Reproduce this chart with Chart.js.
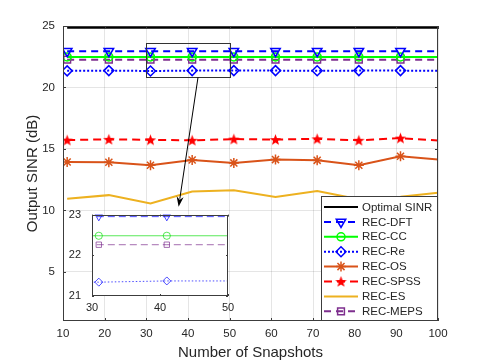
<!DOCTYPE html>
<html>
<head>
<meta charset="utf-8">
<script src="https://cdn.jsdelivr.net/npm/chart.js@4.4.0/dist/chart.umd.min.js"></script>
<style>
  html, body { margin: 0; padding: 0; background: #fff; }
  #wrap { position: relative; width: 485px; height: 363px; }
  #main { position: absolute; left: 0; top: 0; }
  #inset { position: absolute; left: 55px; top: 205px; }
</style>
</head>
<body>
<div id="wrap">
  <canvas id="main" width="485" height="363"></canvas>
  <canvas id="inset" width="180" height="112"></canvas>
</div>
<script>
// data
const snapshots = [11, 21, 31, 41, 51, 61, 71, 81, 91, 101];
const optimalSinr = [24.85, 24.85, 24.85, 24.85, 24.85, 24.85, 24.85, 24.85, 24.85, 24.85];
const recDft  = [22.95, 22.95, 22.95, 22.95, 22.95, 22.95, 22.95, 22.95, 22.95, 22.95];
const recCc   = [22.48, 22.48, 22.48, 22.48, 22.48, 22.48, 22.48, 22.48, 22.48, 22.48];
const recRe   = [21.35, 21.37, 21.34, 21.37, 21.37, 21.37, 21.36, 21.37, 21.37, 21.36];
const recOs   = [13.94, 13.92, 13.67, 14.10, 13.86, 14.13, 14.07, 13.67, 14.40, 14.10];
const recSpss = [15.72, 15.78, 15.74, 15.70, 15.80, 15.76, 15.82, 15.70, 15.88, 15.66];
const recEs   = [10.95, 11.24, 10.57, 11.54, 11.63, 11.08, 11.57, 10.90, 11.10, 11.48];
const recMeps = [22.26, 22.26, 22.26, 22.26, 22.26, 22.26, 22.26, 22.26, 22.26, 22.26];

const xTicks = [10, 20, 30, 40, 50, 60, 70, 80, 90, 100];
const yTicks = [5, 10, 15, 20, 25];
const insetXTicks = [30, 40, 50];
const insetYTicks = [21, 22, 23];

const FONT = '"Liberation Sans", Arial, Helvetica, sans-serif';
const TEXT = '#262626';
const AXIS = '#3c3c3c';
const GRID = 'rgba(0,0,0,0.1)';

Chart.defaults.font.family = FONT;
Chart.defaults.color = TEXT;

function pts(arr) {
    return arr.map((v, i) => ({ x: snapshots[i], y: v }));
}

// filled pentagram used as point image
function makeStar(size, color) {
    const c = document.createElement('canvas');
    c.width = c.height = size;
    const g = c.getContext('2d');
    const cx = size / 2, cy = size / 2 + 0.5, R = size / 2 - 0.5, r = R * 0.42;
    g.beginPath();
    for (let k = 0; k < 10; k++) {
        const a = -Math.PI / 2 + k * Math.PI / 5;
        const rr = k % 2 ? r : R;
        g.lineTo(cx + rr * Math.cos(a), cy + rr * Math.sin(a));
    }
    g.closePath();
    g.fillStyle = color;
    g.fill();
    return c;
}
const starImg = makeStar(13, '#ff0000');

const CLEAR = 'rgba(0,0,0,0)';

// style per series (main plot)
const series = [
    { label: 'Optimal SINR', data: optimalSinr, color: '#000000', dash: [], marker: null },
    { label: 'REC-DFT', data: recDft, color: '#0000ff', dash: [7, 5], marker: { style: 'triangle', rot: 180, r: 5.5 } },
    { label: 'REC-CC', data: recCc, color: '#00ff00', dash: [], marker: { style: 'circle', rot: 0, r: 4 } },
    { label: 'REC-Re', data: recRe, color: '#0000ff', dash: [2, 2], marker: { style: 'rectRot', rot: 0, r: 5 } },
    { label: 'REC-OS', data: recOs, color: '#d95319', dash: [], marker: { style: 'star', rot: 0, r: 5 } },
    { label: 'REC-SPSS', data: recSpss, color: '#ff0000', dash: [8, 5], marker: { style: starImg, rot: 0, r: 6 } },
    { label: 'REC-ES', data: recEs, color: '#edb120', dash: [], marker: null },
    { label: 'REC-MEPS', data: recMeps, color: '#7e2f8e', dash: [7, 5], marker: { style: 'rect', rot: 0, r: 4.8 } }
];

function radiusFor(r, xMax) {
    return ctx => (ctx.raw && ctx.raw.x > xMax) ? 0 : r;
}

const mainDatasets = series.map(s => ({
    label: s.label,
    data: pts(s.data),
    borderColor: s.color,
    borderWidth: 2,
    borderDash: s.dash,
    pointStyle: s.marker ? s.marker.style : false,
    pointRotation: s.marker ? s.marker.rot : 0,
    pointRadius: s.marker ? radiusFor(s.marker.r, 100) : 0,
    pointBorderColor: s.color,
    pointBackgroundColor: CLEAR,
    pointBorderWidth: 1.5,
    tension: 0,
    fill: false
}));

function boxAndTicks(chart, tx, ty, len) {
    const { ctx, chartArea: a, scales } = chart;
    ctx.save();
    ctx.strokeStyle = AXIS;
    ctx.lineWidth = 1;
    ctx.strokeRect(Math.round(a.left) + 0.5, Math.round(a.top) + 0.5,
        Math.round(a.right - a.left) - 1, Math.round(a.bottom - a.top) - 1);
    ctx.beginPath();
    tx.forEach(v => {
        const x = Math.round(scales.x.getPixelForValue(v)) + 0.5;
        ctx.moveTo(x, a.bottom); ctx.lineTo(x, a.bottom - len);
        ctx.moveTo(x, a.top); ctx.lineTo(x, a.top + len);
    });
    ty.forEach(v => {
        const y = Math.round(scales.y.getPixelForValue(v)) + 0.5;
        ctx.moveTo(a.left, y); ctx.lineTo(a.left + len, y);
        ctx.moveTo(a.right, y); ctx.lineTo(a.right - len, y);
    });
    ctx.stroke();
    ctx.restore();
}

const mainDecor = {
    id: 'mainDecor',
    afterDatasetsDraw(chart) {
        const { ctx, chartArea: a, scales: { x, y } } = chart;
        boxAndTicks(chart, xTicks, yTicks, 3);

        // zoom rectangle
        ctx.save();
        ctx.strokeStyle = '#333333';
        ctx.lineWidth = 1;
        const rx0 = Math.round(x.getPixelForValue(30)) + 0.5;
        const rx1 = Math.round(x.getPixelForValue(50)) + 0.5;
        const ry0 = Math.round(y.getPixelForValue(23.64)) + 0.5;
        const ry1 = Math.round(y.getPixelForValue(20.82)) + 0.5;
        ctx.strokeRect(rx0, ry0, rx1 - rx0, ry1 - ry0);

        // arrow to the inset
        const sx = x.getPixelForValue(42.4), sy = y.getPixelForValue(20.82);
        const ex = x.getPixelForValue(37.75), ey = y.getPixelForValue(10.3);
        const ang = Math.atan2(ey - sy, ex - sx);
        ctx.strokeStyle = '#000';
        ctx.beginPath();
        ctx.moveTo(sx, sy);
        ctx.lineTo(ex - 8 * Math.cos(ang), ey - 8 * Math.sin(ang));
        ctx.stroke();
        ctx.fillStyle = '#000';
        ctx.beginPath();
        ctx.moveTo(ex, ey);
        ctx.lineTo(ex - 10 * Math.cos(ang) + 3.5 * Math.sin(ang), ey - 10 * Math.sin(ang) - 3.5 * Math.cos(ang));
        ctx.lineTo(ex - 7 * Math.cos(ang), ey - 7 * Math.sin(ang));
        ctx.lineTo(ex - 10 * Math.cos(ang) - 3.5 * Math.sin(ang), ey - 10 * Math.sin(ang) + 3.5 * Math.cos(ang));
        ctx.closePath();
        ctx.fill();
        ctx.restore();
    },
    afterDraw(chart) {
        // legend box, bottom right inside the axes
        const { ctx, chartArea: a } = chart;
        const w = 116, h = 124;
        const lx = Math.round(a.right) - 1 - w, ly = Math.round(a.bottom) - 1 - h;
        ctx.save();
        ctx.fillStyle = '#fff';
        ctx.fillRect(lx, ly, w, h);
        ctx.strokeStyle = AXIS;
        ctx.lineWidth = 1;
        ctx.strokeRect(lx + 0.5, ly + 0.5, w, h);
        ctx.font = '11.5px ' + FONT;
        ctx.textBaseline = 'middle';
        ctx.textAlign = 'left';
        series.forEach((s, i) => {
            const cy = ly + 11 + i * 14.9;
            ctx.strokeStyle = s.color;
            ctx.lineWidth = 2;
            ctx.setLineDash(s.dash);
            ctx.beginPath();
            ctx.moveTo(lx + 3, cy);
            ctx.lineTo(lx + 37, cy);
            ctx.stroke();
            ctx.setLineDash([]);
            if (s.marker) {
                ctx.lineWidth = 1.5;
                ctx.fillStyle = CLEAR;
                Chart.helpers.drawPoint(ctx, {
                    pointStyle: s.marker.style,
                    rotation: s.marker.rot,
                    radius: s.marker.r,
                    borderWidth: 1.5
                }, lx + 20, cy);
            }
            ctx.fillStyle = TEXT;
            ctx.fillText(s.label, lx + 41, cy + 0.5);
        });
        ctx.restore();
    }
};

new Chart(document.getElementById('main'), {
    type: 'line',
    data: { datasets: mainDatasets },
    options: {
        responsive: false,
        animation: false,
        events: [],
        layout: { padding: { left: 0, right: 47, top: 26, bottom: 0 } },
        plugins: { legend: { display: false }, tooltip: { enabled: false } },
        scales: {
            x: {
                type: 'linear', min: 10, max: 100,
                afterFit: s => { s.height = 42; },
                afterBuildTicks: s => { s.ticks = xTicks.map(v => ({ value: v })); },
                ticks: { padding: 6, font: { size: 11.5 }, color: TEXT, maxRotation: 0, autoSkip: false },
                grid: { color: GRID, drawTicks: false },
                border: { display: false },
                title: { display: true, text: 'Number of Snapshots', font: { size: 15 }, color: TEXT, padding: { top: 0, bottom: 1 } }
            },
            y: {
                type: 'linear', min: 1, max: 25,
                afterFit: s => { s.width = 63; },
                afterBuildTicks: s => { s.ticks = yTicks.map(v => ({ value: v })); },
                ticks: { padding: 8, font: { size: 11.5 }, color: TEXT },
                grid: { color: GRID, drawTicks: false },
                border: { display: false },
                title: { display: true, text: 'Output SINR (dB)', font: { size: 15 }, color: TEXT, padding: { top: 24, bottom: 0 } }
            }
        }
    },
    plugins: [mainDecor]
});

// inset: zoom of x 30..50
const insetSeries = [
    { data: recDft, color: 'rgba(0,0,255,0.7)', dash: [7, 4], marker: { style: 'triangle', rot: 180, r: 4.2 } },
    { data: recCc, color: 'rgba(0,220,0,0.65)', dash: [], marker: { style: 'circle', rot: 0, r: 3.6 } },
    { data: recRe, color: 'rgba(0,0,255,0.7)', dash: [1.5, 2], marker: { style: 'rectRot', rot: 0, r: 4 } },
    { data: recMeps, color: 'rgba(126,47,142,0.7)', dash: [7, 4], marker: { style: 'rect', rot: 0, r: 3.8 } }
];

const insetDecor = {
    id: 'insetDecor',
    beforeDatasetsDraw(chart) {
        const { ctx, chartArea: a } = chart;
        ctx.save();
        ctx.fillStyle = '#fff';
        ctx.fillRect(a.left, a.top, a.right - a.left, a.bottom - a.top);
        ctx.restore();
    },
    afterDatasetsDraw(chart) {
        boxAndTicks(chart, insetXTicks, insetYTicks, 2);
    }
};

new Chart(document.getElementById('inset'), {
    type: 'line',
    data: {
        datasets: insetSeries.map(s => ({
            data: pts(s.data),
            borderColor: s.color,
            borderWidth: 1,
            borderDash: s.dash,
            pointStyle: s.marker.style,
            pointRotation: s.marker.rot,
            pointRadius: radiusFor(s.marker.r, 50),
            pointBorderColor: s.color,
            pointBackgroundColor: CLEAR,
            pointBorderWidth: 1,
            tension: 0,
            fill: false
        }))
    },
    options: {
        responsive: false,
        animation: false,
        events: [],
        layout: { padding: { left: 0, right: 7, top: 8, bottom: 0 } },
        plugins: { legend: { display: false }, tooltip: { enabled: false } },
        scales: {
            x: {
                type: 'linear', min: 30, max: 50,
                afterFit: s => { s.height = 21; },
                afterBuildTicks: s => { s.ticks = insetXTicks.map(v => ({ value: v })); },
                ticks: { padding: -3, font: { size: 11 }, color: TEXT, maxRotation: 0, autoSkip: false },
                grid: { display: false },
                border: { display: false }
            },
            y: {
                type: 'linear', min: 21, max: 23,
                afterFit: s => { s.width = 37; },
                afterBuildTicks: s => { s.ticks = insetYTicks.map(v => ({ value: v })); },
                ticks: { padding: 3, font: { size: 11 }, color: TEXT },
                grid: { display: false },
                border: { display: false }
            }
        }
    },
    plugins: [insetDecor]
});
</script>
</body>
</html>
